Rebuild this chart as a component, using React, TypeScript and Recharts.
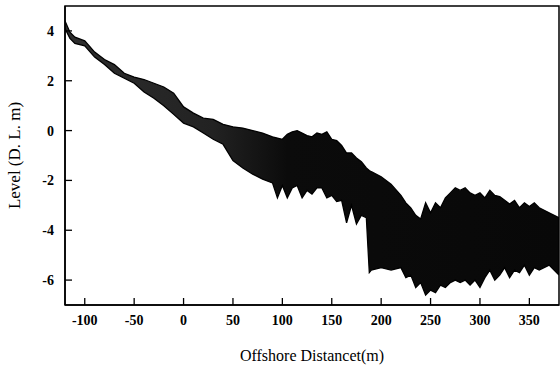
import { Area, ComposedChart, ReferenceArea, XAxis, YAxis } from "recharts";

// offshore distance (m) of each sampled profile point
const distance = [
  -120, -115, -110, -100, -90, -80, -70, -60, -50, -40, -30, -20, -10, 0, 10, 20, 30, 40,
  50, 60, 70, 80, 90, 95, 100, 105, 110, 115, 120, 125, 130, 135, 140, 145, 150, 155, 160,
  165, 170, 175, 180, 185, 188, 190, 200, 210, 220, 225, 230, 235, 240, 245, 250, 255, 260,
  265, 270, 275, 280, 285, 290, 295, 300, 305, 310, 315, 320, 325, 330, 335, 340, 345, 350,
  355, 360, 370, 380,
];

// highest level of all surveyed profiles (D.L. m)
const upperLevel = [
  4.4, 3.95, 3.75, 3.6, 3.15, 2.85, 2.65, 2.3, 2.15, 2.05, 1.9, 1.75, 1.5, 0.95, 0.7, 0.5, 0.45, 0.25,
  0.15, 0.1, 0.0, -0.1, -0.25, -0.3, -0.35, -0.15, -0.05, 0.0, -0.1, -0.2, -0.25, -0.1, -0.15, -0.05, -0.35, -0.4, -0.6,
  -0.9, -0.9, -1.1, -1.25, -1.5, -1.6, -1.65, -1.85, -2.15, -2.6, -2.9, -3.1, -3.4, -3.55, -2.9, -3.3, -2.9, -3.1,
  -2.7, -2.5, -2.3, -2.4, -2.3, -2.5, -2.6, -2.5, -2.7, -2.4, -2.6, -2.65, -2.8, -2.95, -2.8, -3.1, -2.9, -3.05,
  -2.9, -3.1, -3.3, -3.5,
];

// lowest level of all surveyed profiles (D.L. m)
const lowerLevel = [
  4.1, 3.7, 3.5, 3.4, 2.95, 2.65, 2.3, 2.1, 1.9, 1.55, 1.3, 1.0, 0.65, 0.3, 0.15, -0.1, -0.35, -0.55,
  -1.2, -1.5, -1.75, -1.95, -2.1, -2.7, -2.2, -2.7, -2.3, -2.2, -2.7, -2.4, -2.55, -2.3, -2.3, -2.7, -2.6, -2.85, -2.8,
  -3.7, -3.0, -3.75, -3.4, -3.5, -5.7, -5.6, -5.5, -5.6, -5.5, -5.9, -5.8, -6.3, -6.1, -6.6, -6.4, -6.5, -6.2,
  -6.3, -6.1, -6.0, -6.1, -6.0, -6.2, -6.0, -6.3, -5.9, -5.6, -6.0, -5.8, -5.5, -5.9, -5.6, -5.7, -5.4, -5.8,
  -5.5, -5.6, -5.4, -5.8,
];

const xTicks = [-100, -50, 0, 50, 100, 150, 200, 250, 300, 350];
const yTicks = [-6, -4, -2, 0, 2, 4];
const yMinorTicks = [-5, -3, -1, 1, 3];

const data = distance.map((d, i) => ({
  distance: d,
  range: [lowerLevel[i], upperLevel[i]],
}));

const serif = "Liberation Serif, DejaVu Serif, serif";

const tickStyle = { fill: "#000", fontFamily: serif, fontSize: 14, fontWeight: "bold", style: { fontFamily: serif } };

export default function App() {
  return (
    <div
      style={{
        position: "absolute",
        left: 0,
        top: 0,
        width: 560,
        height: 370,
        background: "#fff",
        fontFamily: serif,
      }}
    >
      <ComposedChart
        width={560}
        height={370}
        data={data}
        margin={{ top: 6, right: 1, bottom: 0, left: 0 }}
        style={{ fontFamily: serif }}
      >
        <defs>
          <linearGradient id="bandFill" x1="0" y1="0" x2="1" y2="0">
            <stop offset="0" stopColor="#2e2e2e" />
            <stop offset="0.3" stopColor="#222" />
            <stop offset="0.45" stopColor="#0b0b0b" />
            <stop offset="1" stopColor="#080808" />
          </linearGradient>
        </defs>
        <XAxis
          dataKey="distance"
          type="number"
          domain={[-120, 380]}
          ticks={xTicks}
          allowDataOverflow
          height={65}
          tickSize={-7}
          tickMargin={17}
          axisLine={{ stroke: "#000", strokeWidth: 1.5 }}
          tickLine={{ stroke: "#000", strokeWidth: 1.3 }}
          tick={tickStyle}
          label={{
            value: "Offshore Distancet(m)",
            position: "insideBottom",
            offset: 9,
            style: { fill: "#000", fontFamily: serif, fontSize: 16 },
          }}
        />
        <YAxis
          yAxisId="main"
          type="number"
          domain={[-7, 5]}
          ticks={yTicks}
          allowDataOverflow
          width={65}
          tickSize={-7}
          tickMargin={18}
          axisLine={{ stroke: "#000", strokeWidth: 1.5 }}
          tickLine={{ stroke: "#000", strokeWidth: 1.3 }}
          tick={tickStyle}
          label={{
            value: "Level (D. L. m)",
            angle: -90,
            position: "insideLeft",
            offset: 14,
            style: { fill: "#000", fontFamily: serif, fontSize: 17, textAnchor: "middle" },
          }}
        />
        <YAxis
          yAxisId="minor"
          type="number"
          domain={[-7, 5]}
          ticks={yMinorTicks}
          width={0}
          tick={false}
          tickSize={-4}
          axisLine={false}
          tickLine={{ stroke: "#000", strokeWidth: 1.2 }}
        />
        <Area
          yAxisId="main"
          dataKey="range"
          type="linear"
          stroke="#000"
          strokeWidth={1.3}
          fill="url(#bandFill)"
          fillOpacity={1}
          isAnimationActive={false}
        />
        <ReferenceArea
          yAxisId="main"
          x1={-120}
          x2={380}
          y1={-7}
          y2={5}
          fill="none"
          stroke="#000"
          strokeWidth={1.5}
          ifOverflow="visible"
        />
      </ComposedChart>
    </div>
  );
}
